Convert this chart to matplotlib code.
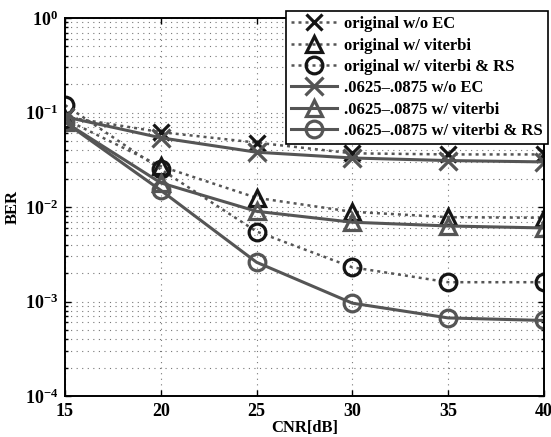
import matplotlib
matplotlib.use("Agg")
import matplotlib.pyplot as plt
from matplotlib.ticker import LogLocator, NullFormatter

cnr = [15, 20, 25, 30, 35, 40]
orig_noec = [0.090, 0.062, 0.048, 0.037, 0.036, 0.036]
orig_vit = [0.085, 0.027, 0.0125, 0.0089, 0.0078, 0.0077]
orig_vitrs = [0.12, 0.025, 0.0055, 0.0023, 0.0016, 0.0016]
new_noec = [0.090, 0.054, 0.038, 0.033, 0.031, 0.030]
new_vit = [0.079, 0.018, 0.0090, 0.0069, 0.0063, 0.0060]
new_vitrs = [0.079, 0.015, 0.0026, 0.00096, 0.00067, 0.00063]

labels = ["original w/o EC", "original w/ viterbi", "original w/ viterbi & RS",
          ".0625\u2013.0875 w/o EC", ".0625\u2013.0875 w/ viterbi",
          ".0625\u2013.0875 w/ viterbi & RS"]

plt.rcParams['font.family'] = ['Liberation Serif', 'DejaVu Serif']
plt.rcParams['font.weight'] = 'bold'
plt.rcParams['mathtext.fontset'] = 'custom'
plt.rcParams['mathtext.rm'] = 'Liberation Serif:bold'
plt.rcParams['mathtext.it'] = 'Liberation Serif:bold'
plt.rcParams['mathtext.bf'] = 'Liberation Serif:bold'

fig = plt.figure(figsize=(5.51, 4.37), dpi=100)
ax = fig.add_axes([65/551, 1-396/437, (544-65)/551, (396-18)/437])

blk = '#151515'
gry = '#555555'
ms = 12
dot = (0, (1.2, 1.6))
ax.plot(cnr, orig_noec, linestyle=dot, color=gry, lw=1.8, marker='x', ms=ms, mec=blk, mew=2.3, label=labels[0])
ax.plot(cnr, orig_vit, linestyle=dot, color=gry, lw=1.8, marker='^', ms=ms, mec=blk, mfc='none', mew=2.3, label=labels[1])
ax.plot(cnr, orig_vitrs, linestyle=dot, color=gry, lw=1.8, marker='o', ms=ms, mec=blk, mfc='none', mew=2.3, label=labels[2])
ax.plot(cnr, new_noec, linestyle='-', color=gry, lw=2.2, marker='x', ms=ms+1, mec=gry, mew=2.3, label=labels[3])
ax.plot(cnr, new_vit, linestyle='-', color=gry, lw=2.2, marker='^', ms=ms, mec=gry, mfc='none', mew=2.3, label=labels[4])
ax.plot(cnr, new_vitrs, linestyle='-', color=gry, lw=2.2, marker='o', ms=ms, mec=gry, mfc='none', mew=2.3, label=labels[5])

ax.set_yscale('log')
ax.set_xlim(15, 40)
ax.set_ylim(1e-4, 1)
ax.set_xticks(cnr)
ax.yaxis.set_major_locator(LogLocator(base=10, numticks=10))
ax.yaxis.set_minor_locator(LogLocator(base=10, subs=range(2, 10), numticks=20))
ax.yaxis.set_minor_formatter(NullFormatter())
gridls = (0, (1, 4))
ax.grid(True, which='major', linestyle=gridls, color='#777777', lw=0.8)
ax.grid(True, which='minor', axis='y', linestyle=gridls, color='#777777', lw=0.8)
ax.tick_params(which='both', direction='in', top=True, right=True, labelsize=13, width=1)
ax.tick_params(which='major', length=4, pad=5)
ax.tick_params(which='minor', length=2)
for lab in ax.get_xticklabels() + ax.get_yticklabels():
    lab.set_fontweight('bold')
for s in ax.spines.values():
    s.set_linewidth(1.4)

ax.set_xlabel('CNR[dB]', fontsize=12, fontweight='bold', labelpad=0)
ax.set_ylabel('BER', fontsize=12, fontweight='bold', labelpad=3)

leg = ax.legend(loc='upper right', bbox_to_anchor=(1.008, 1.018), fontsize=12, frameon=True,
                fancybox=False, edgecolor='black', framealpha=1, handlelength=2.8,
                labelspacing=0.32, borderpad=0.3, handletextpad=0.4, borderaxespad=0.0)
leg.get_frame().set_linewidth(1.2)
for t in leg.get_texts():
    t.set_fontweight('bold')

fig.savefig('out.png', dpi=100)
